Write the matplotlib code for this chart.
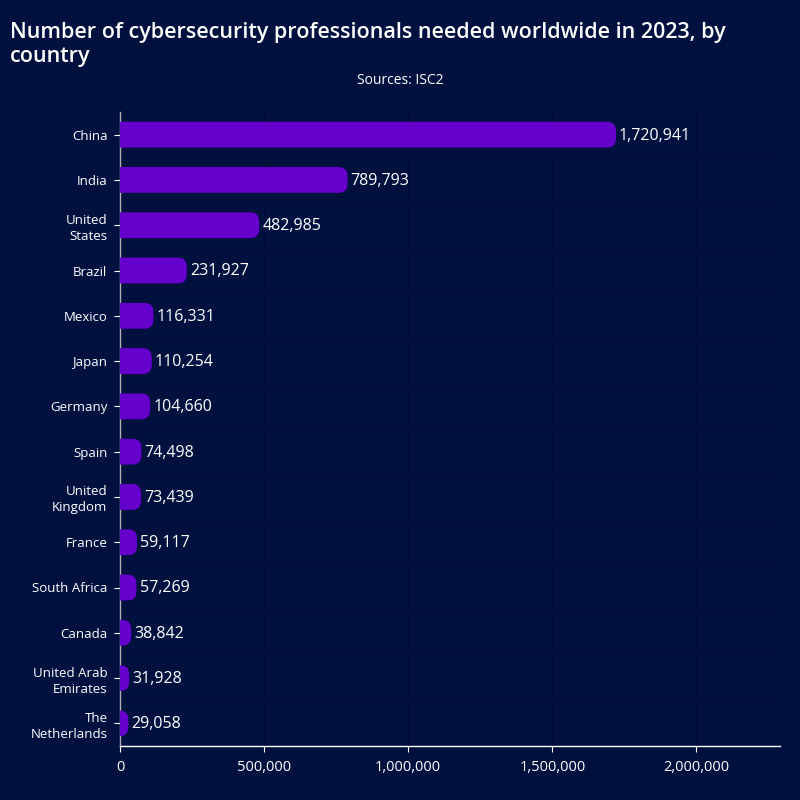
import matplotlib
matplotlib.use("Agg")
import matplotlib.pyplot as plt
from matplotlib.patches import FancyBboxPatch
from matplotlib.ticker import FuncFormatter

# ---------- Data ----------
countries = ["China", "India", "United\nStates", "Brazil", "Mexico", "Japan",
             "Germany", "Spain", "United\nKingdom", "France", "South Africa",
             "Canada", "United Arab\nEmirates", "The\nNetherlands"]
needed = [1720941, 789793, 482985, 231927, 116331, 110254, 104660,
          74498, 73439, 59117, 57269, 38842, 31928, 29058]
xticks = [0, 500000, 1000000, 1500000, 2000000]

BG = "#001140"
BAR = "#6600CC"
GRID = "#000b33"

plt.rcParams["font.family"] = ["Open Sans", "DejaVu Sans"]

fig = plt.figure(figsize=(8, 8), dpi=100, facecolor=BG)
ax = fig.add_axes([0.15, 0.0675, 0.825, 0.7925])
ax.set_facecolor(BG)

n = len(countries)
ax.set_xlim(0, 2290000)
ax.set_ylim(n - 0.5, -0.5)

# pixel scales so the bar ends get round corners in screen space
bbox = ax.get_window_extent()
x_per_px = 2290000 / bbox.width
y_per_px = n / bbox.height
radius_px = 9
r = radius_px * x_per_px
h = 0.57

for i, v in enumerate(needed):
    patch = FancyBboxPatch((-r * 2, i - h / 2), v + r * 2, h,
                           boxstyle=f"round,pad=0,rounding_size={r}",
                           mutation_aspect=y_per_px / x_per_px,
                           facecolor=BAR, edgecolor="none", zorder=3)
    ax.add_patch(patch)
    ax.text(v + 3 * x_per_px, i + 0.02, f"{v:,}", va="center", ha="left",
            color="white", fontsize=11.5, zorder=4)

ax.set_yticks(range(n))
ax.set_yticklabels(countries, color="white", fontsize=9.5, linespacing=1.3)
ax.set_xticks(xticks)
ax.xaxis.set_major_formatter(FuncFormatter(lambda x, _: f"{int(x):,}"))
ax.tick_params(axis="x", colors="white", labelsize=10.5, length=4, pad=6)
ax.tick_params(axis="y", colors="white", length=4, pad=5)

# faint grid: vertical at ticks, horizontal between categories
for x in xticks[1:]:
    ax.axvline(x, color=GRID, linewidth=0.8, zorder=1)
for i in range(n - 1):
    ax.axhline(i + 0.5, color=GRID, linewidth=0.8, zorder=1)

for s in ["top", "right"]:
    ax.spines[s].set_visible(False)
ax.spines["left"].set_color("#b0b0b0")
ax.spines["left"].set_linewidth(1)
ax.spines["bottom"].set_color("white")
ax.spines["bottom"].set_linewidth(1)

fig.text(0.0125, 0.972, "Number of cybersecurity professionals needed worldwide in 2023, by\ncountry",
         color="white", fontsize=15.5, fontweight="semibold", ha="left", va="top",
         linespacing=1.15)
fig.text(0.5, 0.9, "Sources: ISC2", color="white", fontsize=10, ha="center", va="center")

fig.savefig("out.png", dpi=100, facecolor=BG)
